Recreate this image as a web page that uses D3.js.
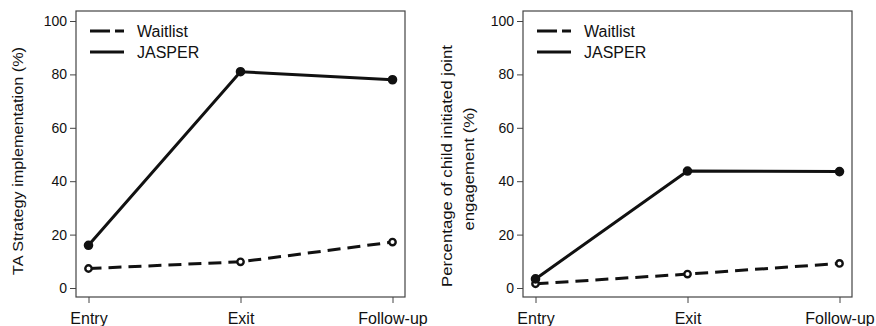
<!DOCTYPE html>
<html>
<head>
<meta charset="utf-8">
<script src="https://cdn.jsdelivr.net/npm/d3@7"></script>
<style>
  body { margin: 0; background: #fff; }
  svg text { font-family: "Liberation Sans", Arial, sans-serif; fill: #111; }
</style>
</head>
<body>
<div id="chart"></div>
<script>
// categories and values
var timepoints = ["Entry", "Exit", "Follow-up"];
var yTicks = [0, 20, 40, 60, 80, 100];
var seriesNames = ["Waitlist", "JASPER"];

var taWaitlist = [7.3, 9.8, 17.2];
var taJasper = [16.0, 81.0, 78.0];

var jeWaitlist = [1.6, 5.2, 9.2];
var jeJasper = [3.4, 43.8, 43.6];

var width = 876, height = 326;

var svg = d3.select("#chart").append("svg")
  .attr("width", width)
  .attr("height", height);

function drawPanel(opts) {
  var box = opts.box; // left, right, top, bottom of the plot frame
  var g = svg.append("g");

  var x = d3.scalePoint()
    .domain(timepoints)
    .range([box.left + 12.5, box.right - 12.5]);
  var y = d3.scaleLinear()
    .domain([0, 100])
    .range([box.bottom - 9, box.top + 10]);

  // frame
  g.append("rect")
    .attr("x", box.left).attr("y", box.top)
    .attr("width", box.right - box.left)
    .attr("height", box.bottom - box.top)
    .attr("fill", "none")
    .attr("stroke", "#444")
    .attr("stroke-width", 1.2);

  // y axis
  var yAxis = g.append("g")
    .attr("transform", "translate(" + box.left + ",0)")
    .call(d3.axisLeft(y).tickValues(yTicks).tickSize(6).tickPadding(3));
  yAxis.select(".domain").remove();
  yAxis.selectAll("line").attr("stroke", "#444");
  yAxis.selectAll("text").attr("font-size", 14).attr("fill", "#111")
    .style("font-family", "Liberation Sans, Arial, sans-serif");

  // x axis
  var xAxis = g.append("g")
    .attr("transform", "translate(0," + box.bottom + ")")
    .call(d3.axisBottom(x).tickSize(6).tickPadding(10));
  xAxis.select(".domain").remove();
  xAxis.selectAll("line").attr("stroke", "#444");
  xAxis.selectAll("text").attr("font-size", 16).attr("fill", "#111")
    .style("font-family", "Liberation Sans, Arial, sans-serif");

  // y label (wide geometric face in the original, so stretch to its length)
  opts.ylabel.forEach(function (line, i) {
    g.append("text")
      .attr("transform", "translate(" + (opts.ylabelX + i * 22) + "," + opts.ylabelY[i] + ") rotate(-90)")
      .attr("text-anchor", "middle")
      .attr("font-size", 15.5)
      .attr("textLength", opts.ylabelLen[i])
      .attr("lengthAdjust", "spacingAndGlyphs")
      .text(line);
  });

  var line = d3.line()
    .x(function (d, i) { return x(timepoints[i]); })
    .y(function (d) { return y(d); });

  var series = [
    { name: seriesNames[0], values: opts.waitlist, dash: "13,7", r: 3.2, fill: "#fff" },
    { name: seriesNames[1], values: opts.jasper, dash: null, r: 3.6, fill: "#111" }
  ];

  series.forEach(function (s) {
    g.append("path")
      .datum(s.values)
      .attr("d", line)
      .attr("fill", "none")
      .attr("stroke", "#111")
      .attr("stroke-width", 3)
      .attr("stroke-dasharray", s.dash);

    g.selectAll(null)
      .data(s.values)
      .enter()
      .append("circle")
      .attr("cx", function (d, i) { return x(timepoints[i]); })
      .attr("cy", function (d) { return y(d); })
      .attr("r", s.r)
      .attr("fill", s.fill)
      .attr("stroke", "#111")
      .attr("stroke-width", 2.4);
  });

  // legend
  var lg = g.append("g")
    .attr("transform", "translate(" + (box.left + 14) + "," + (box.top + 20) + ")");
  series.forEach(function (s, i) {
    lg.append("line")
      .attr("x1", 0).attr("x2", 34)
      .attr("y1", i * 21).attr("y2", i * 21)
      .attr("stroke", "#111")
      .attr("stroke-width", 3)
      .attr("stroke-dasharray", s.dash ? "20,5" : null);
    lg.append("text")
      .attr("x", 47)
      .attr("y", i * 21 + 5.5)
      .attr("font-size", 16)
      .text(s.name);
  });
}

drawPanel({
  box: { left: 76, right: 405, top: 11, bottom: 297 },
  waitlist: taWaitlist,
  jasper: taJasper,
  ylabel: ["TA Strategy implementation (%)"],
  ylabelY: [161],
  ylabelLen: [228],
  ylabelX: 23
});

drawPanel({
  box: { left: 523, right: 852, top: 11, bottom: 297 },
  waitlist: jeWaitlist,
  jasper: jeJasper,
  ylabel: ["Percentage of child initiated joint", "engagement (%)"],
  ylabelY: [166, 169],
  ylabelLen: [242, 123],
  ylabelX: 452
});
</script>
</body>
</html>
